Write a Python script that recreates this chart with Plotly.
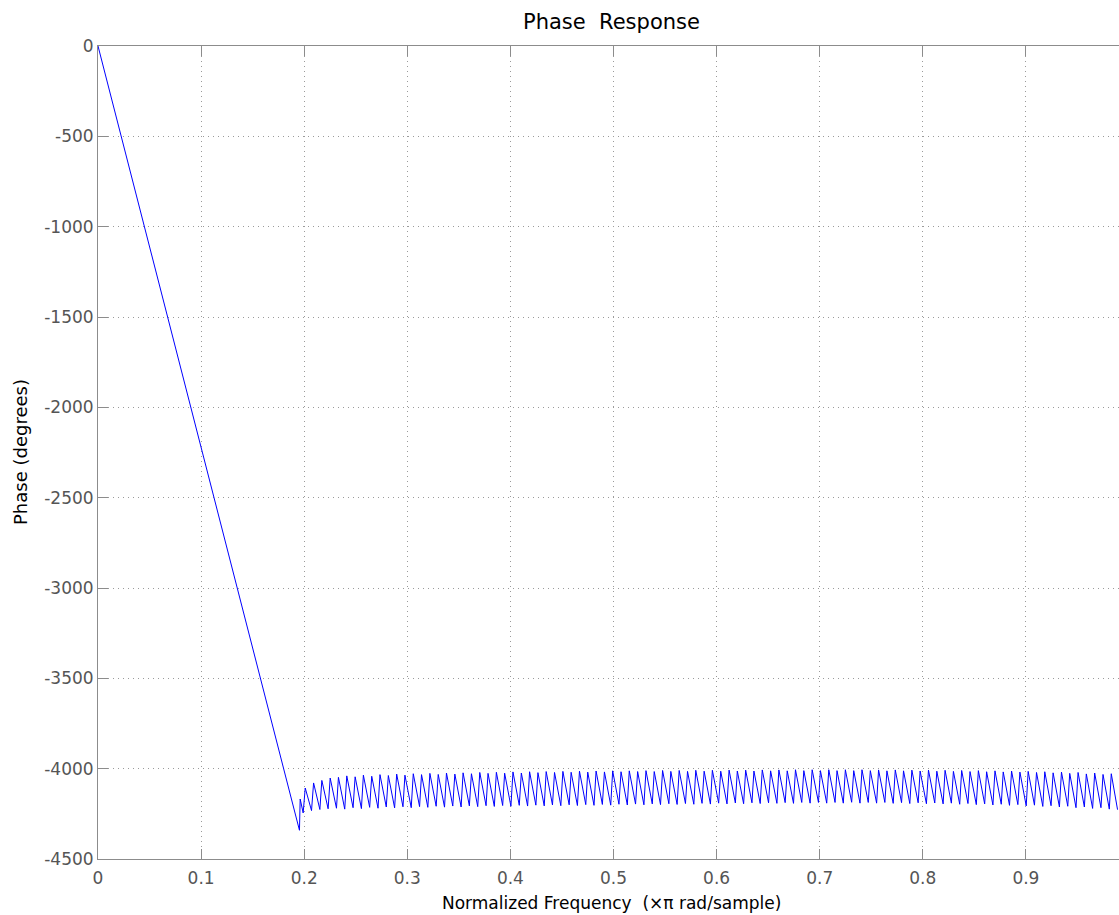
import plotly.graph_objects as go

# ---- data ----
# passband: straight linear-phase segment
pass_freq = [0.0, 0.1954]
pass_deg = [0.0, -4341.0]

# transition wiggle right after the band edge
edge_freq = [0.1961, 0.1990]
edge_deg = [-4168.0, -4245.0]

# stopband sawtooth: peaks (after each +180 jump) and troughs (before next jump)
peak_freq = [0.2010, 0.2091, 0.2171, 0.2252, 0.2332, 0.2413, 0.2494, 0.2574, 0.2655, 0.2735,
             0.2816, 0.2897, 0.2977, 0.3058, 0.3138, 0.3219, 0.3300, 0.3380, 0.3461, 0.3541,
             0.3622, 0.3703, 0.3783, 0.3864, 0.3944, 0.4025, 0.4106, 0.4186, 0.4267, 0.4347,
             0.4428, 0.4509, 0.4589, 0.4670, 0.4750, 0.4831, 0.4912, 0.4992, 0.5073, 0.5153,
             0.5234, 0.5315, 0.5395, 0.5476, 0.5556, 0.5637, 0.5718, 0.5798, 0.5879, 0.5959,
             0.6040, 0.6121, 0.6201, 0.6282, 0.6362, 0.6443, 0.6524, 0.6604, 0.6685, 0.6765,
             0.6846, 0.6927, 0.7007, 0.7088, 0.7168, 0.7249, 0.7330, 0.7410, 0.7491, 0.7571,
             0.7652, 0.7733, 0.7813, 0.7894, 0.7974, 0.8055, 0.8136, 0.8216, 0.8297, 0.8377,
             0.8458, 0.8539, 0.8619, 0.8700, 0.8780, 0.8861, 0.8942, 0.9022, 0.9103, 0.9183,
             0.9264, 0.9345, 0.9425, 0.9506, 0.9586, 0.9667, 0.9748, 0.9828]
peak_deg = [-4107, -4079, -4065, -4052, -4048, -4040, -4045, -4036, -4042, -4033,
            -4038, -4030, -4036, -4028, -4033, -4026, -4032, -4024, -4030, -4023,
            -4028, -4021, -4026, -4020, -4025, -4018, -4024, -4017, -4022, -4016,
            -4021, -4015, -4020, -4014, -4019, -4013, -4018, -4012, -4017, -4012,
            -4016, -4011, -4016, -4010, -4015, -4010, -4015, -4009, -4014, -4009,
            -4014, -4008, -4013, -4008, -4013, -4007, -4012, -4007, -4012, -4006,
            -4011, -4006, -4011, -4006, -4011, -4006, -4011, -4006, -4011, -4007,
            -4012, -4007, -4012, -4008, -4013, -4008, -4014, -4009, -4015, -4010,
            -4016, -4011, -4017, -4012, -4018, -4013, -4019, -4015, -4021, -4017,
            -4023, -4019, -4026, -4021, -4029, -4024, -4032, -4028]
trough_freq = [0.2071, 0.2152, 0.2232, 0.2313, 0.2393, 0.2474, 0.2555, 0.2635, 0.2716, 0.2796,
               0.2877, 0.2958, 0.3038, 0.3119, 0.3199, 0.3280, 0.3361, 0.3441, 0.3522, 0.3602,
               0.3683, 0.3764, 0.3844, 0.3925, 0.4005, 0.4086, 0.4167, 0.4247, 0.4328, 0.4408,
               0.4489, 0.4570, 0.4650, 0.4731, 0.4811, 0.4892, 0.4973, 0.5053, 0.5134, 0.5214,
               0.5295, 0.5376, 0.5456, 0.5537, 0.5617, 0.5698, 0.5779, 0.5859, 0.5940, 0.6020,
               0.6101, 0.6182, 0.6262, 0.6343, 0.6423, 0.6504, 0.6585, 0.6665, 0.6746, 0.6826,
               0.6907, 0.6988, 0.7068, 0.7149, 0.7229, 0.7310, 0.7391, 0.7471, 0.7552, 0.7632,
               0.7713, 0.7794, 0.7874, 0.7955, 0.8035, 0.8116, 0.8197, 0.8277, 0.8358, 0.8438,
               0.8519, 0.8600, 0.8680, 0.8761, 0.8841, 0.8922, 0.9003, 0.9083, 0.9164, 0.9244,
               0.9325, 0.9406, 0.9486, 0.9567, 0.9647, 0.9728, 0.9809, 0.9889]
trough_deg = [-4232, -4226, -4222, -4219, -4224, -4216, -4221, -4214, -4219, -4212,
              -4217, -4211, -4216, -4210, -4214, -4208, -4213, -4207, -4212, -4206,
              -4210, -4205, -4209, -4204, -4208, -4203, -4207, -4202, -4206, -4201,
              -4205, -4200, -4204, -4199, -4203, -4198, -4202, -4197, -4201, -4196,
              -4200, -4195, -4199, -4194, -4198, -4193, -4197, -4192, -4196, -4191,
              -4195, -4190, -4194, -4189, -4193, -4189, -4192, -4188, -4192, -4187,
              -4191, -4187, -4191, -4187, -4191, -4186, -4191, -4187, -4191, -4187,
              -4192, -4188, -4193, -4189, -4194, -4190, -4195, -4191, -4197, -4193,
              -4199, -4195, -4201, -4197, -4203, -4199, -4206, -4202, -4209, -4205,
              -4212, -4208, -4216, -4212, -4220, -4216, -4224, -4227]

x_ticks = [0, 0.1, 0.2, 0.3, 0.4, 0.5, 0.6, 0.7, 0.8, 0.9]
x_labels = ["0", "0.1", "0.2", "0.3", "0.4", "0.5", "0.6", "0.7", "0.8", "0.9"]
y_ticks = [0, -500, -1000, -1500, -2000, -2500, -3000, -3500, -4000, -4500]
y_labels = ["0", "-500", "-1000", "-1500", "-2000", "-2500", "-3000", "-3500", "-4000", "-4500"]

# ---- assemble the polyline ----
xs = list(pass_freq) + list(edge_freq)
ys = list(pass_deg) + list(edge_deg)
for i in range(len(peak_freq)):
    xs.append(peak_freq[i]); ys.append(peak_deg[i])
    xs.append(trough_freq[i]); ys.append(trough_deg[i])

fig = go.Figure(go.Scatter(x=xs, y=ys, mode="lines",
                           line=dict(color="#0000ff", width=1),
                           hoverinfo="skip", showlegend=False))

font_family = "DejaVu Sans, Liberation Sans, Arial, sans-serif"
axis_col = "#8c8c8c"
grid_col = "#9a9a9a"
dot = "1px,4px"

fig.update_layout(
    width=1119, height=915,
    margin=dict(l=98, r=0, t=46, b=56),
    paper_bgcolor="white", plot_bgcolor="white",
    font=dict(family=font_family, color="#000000"),
    showlegend=False,
)
fig.update_xaxes(
    range=[0, 0.9903], tickvals=x_ticks, ticktext=x_labels,
    showgrid=True, gridcolor=grid_col, griddash=dot, gridwidth=1,
    showline=True, linecolor=axis_col, linewidth=1, mirror="ticks",
    ticks="inside", ticklen=10, tickcolor=axis_col, tickwidth=1,
    ticklabelstandoff=4,
    zeroline=False, tickfont=dict(family=font_family, size=17, color="#555555"),
)
fig.update_yaxes(
    range=[-4500, 0], tickvals=y_ticks, ticktext=y_labels,
    showgrid=True, gridcolor=grid_col, griddash=dot, gridwidth=1,
    showline=True, linecolor=axis_col, linewidth=1, mirror=False,
    ticks="inside", ticklen=10, tickcolor=axis_col, tickwidth=1,
    zeroline=False, tickfont=dict(family=font_family, size=17, color="#555555"),
)

fig.add_annotation(text="Phase  Response", xref="paper", yref="paper",
                   x=(611 - 98) / 1021, y=1 + (46 - 22) / 813, xanchor="center", yanchor="middle",
                   showarrow=False, font=dict(family=font_family, size=21, color="#000000"))
fig.add_annotation(text="Normalized Frequency  (×π rad/sample)", xref="paper", yref="paper",
                   x=(611 - 98) / 1021, y=-(903 - 859) / 813, xanchor="center", yanchor="middle",
                   showarrow=False, font=dict(family=font_family, size=17, color="#000000"))
fig.add_annotation(text="Phase (degrees)", xref="paper", yref="paper", textangle=-90,
                   x=(20 - 98) / 1021, y=(859 - 452) / 813, xanchor="center", yanchor="middle",
                   showarrow=False, font=dict(family=font_family, size=18, color="#000000"))

fig.write_html("out.html")
